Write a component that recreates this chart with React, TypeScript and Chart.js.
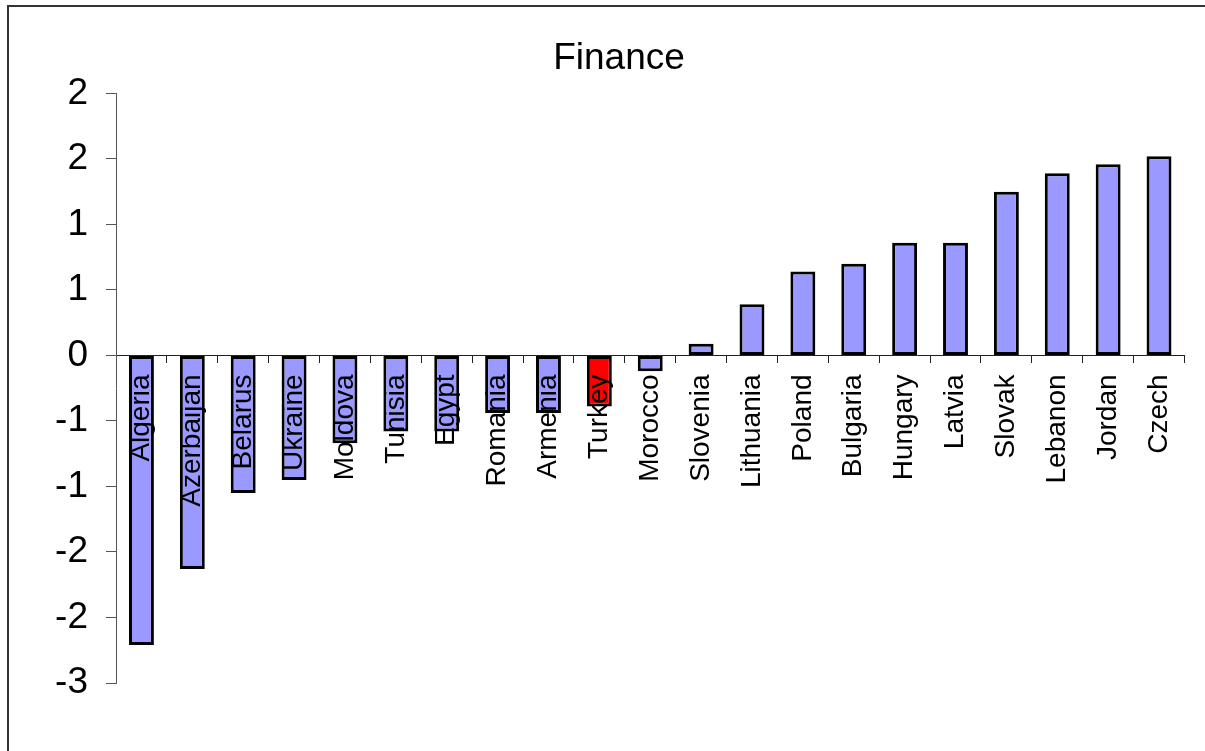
import React, { useEffect, useRef } from "react";
import { Chart, registerables } from "chart.js";

Chart.register(...registerables);

const chartTitle = "Finance";
const categories = [
  "Algeria", "Azerbaijan", "Belarus", "Ukraine", "Moldova", "Tunisia", "Egypt",
  "Romania", "Armenia", "Turkey", "Morocco", "Slovenia", "Lithuania", "Poland",
  "Bulgaria", "Hungary", "Latvia", "Slovak", "Lebanon", "Jordan", "Czech",
];
const financeValues = [
  -2.21, -1.63, -1.05, -0.95, -0.67, -0.58, -0.58,
  -0.44, -0.44, -0.39, -0.12, 0.09, 0.39, 0.64,
  0.70, 0.86, 0.86, 1.25, 1.39, 1.46, 1.52,
];
const highlightedCategory = "Turkey";
const yMin = -2.5;
const yMax = 2;
const yStep = 0.5;

const FONT = '"Liberation Sans", Arial, Helvetica, sans-serif';
const BAR_FILL = "#9999FF";
const BAR_HIGHLIGHT = "#FF0000";

// Excel "0" number format: round half away from zero
const formatTick = (v: number) => {
  const a = Math.round(Math.abs(v) * 100) / 100;
  const r = Math.round(a);
  const s = v < 0 && r !== 0 ? -r : r;
  return String(s);
};

const framePlugin = {
  id: "frame",
  beforeDraw(chart: any) {
    const ctx = chart.ctx;
    ctx.save();
    ctx.fillStyle = "#ffffff";
    ctx.fillRect(0, 0, chart.width, chart.height);
    ctx.fillStyle = "#333333";
    ctx.fillRect(7, 5, chart.width, 2);
    ctx.fillRect(7, 5, 2, chart.height);
    ctx.restore();
  },
};

export default function App() {
  const ref = useRef<HTMLCanvasElement | null>(null);

  useEffect(() => {
    if (!ref.current) return;
    const chart = new Chart(ref.current, {
      type: "bar",
      data: {
        labels: categories,
        datasets: [
          {
            label: chartTitle,
            data: financeValues,
            backgroundColor: categories.map((c) =>
              c === highlightedCategory ? BAR_HIGHLIGHT : BAR_FILL
            ),
            borderColor: "#000000",
            borderWidth: 3,
            borderSkipped: false,
            barPercentage: 0.49,
            categoryPercentage: 1,
          },
        ],
      },
      options: {
        responsive: false,
        animation: false,
        devicePixelRatio: 1,
        layout: { padding: { top: 0, left: 49, right: 16, bottom: 68 } },
        plugins: {
          legend: { display: false },
          tooltip: { enabled: false },
          title: {
            display: true,
            text: chartTitle,
            color: "#000000",
            font: { family: FONT, size: 37, weight: "normal", lineHeight: 1.2 },
            padding: { top: 37, bottom: 12 },
          },
        },
        scales: {
          x: {
            type: "category",
            position: { y: 0 } as any,
            offset: true,
            grid: {
              offset: true,
              drawOnChartArea: false,
              drawTicks: true,
              tickLength: 7,
              color: "#222222",
              lineWidth: 1,
            },
            border: { display: true, color: "#222222", width: 1 },
            ticks: {
              z: 1,
              color: "#000000",
              font: { family: FONT, size: 28 },
              minRotation: 90,
              maxRotation: 90,
              autoSkip: false,
              padding: 12,
            },
            afterFit: (s: any) => {
              s.height = 0;
            },
          },
          y: {
            min: yMin,
            max: yMax,
            ticks: {
              stepSize: yStep,
              color: "#000000",
              font: { family: FONT, size: 37 },
              padding: 18,
              callback: (v: any) => formatTick(Number(v)),
            },
            grid: {
              drawOnChartArea: false,
              drawTicks: true,
              tickLength: 10,
              color: "#555555",
            },
            border: { display: true, color: "#555555", width: 1 },
            afterFit: (s: any) => {
              s.width = 67;
            },
          },
        },
      },
      plugins: [framePlugin],
    });
    return () => chart.destroy();
  }, []);

  return (
    <div style={{ position: "fixed", left: 0, top: 0, width: 1205, height: 751, background: "#fff" }}>
      <canvas ref={ref} width={1205} height={751} style={{ display: "block" }} />
    </div>
  );
}
